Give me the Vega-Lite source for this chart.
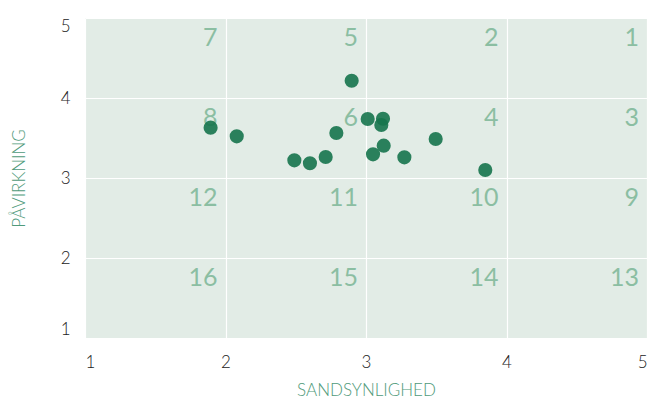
{
  "$schema": "https://vega.github.io/schema/vega-lite/v6.json",
  "width": 562,
  "height": 320,
  "autosize": {"type": "none"},
  "padding": {"left": 85, "top": 18, "right": 2, "bottom": 63},
  "background": "white",
  "config": {
    "view": {"fill": "#e2ece6", "stroke": null},
    "font": "Lato",
    "axis": {
      "grid": true, "gridColor": "white", "gridWidth": 1.2,
      "domain": false, "ticks": false,
      "labelFont": "Lato", "labelFontWeight": 300, "labelFontSize": 17, "labelColor": "#222222",
      "titleFont": "Lato", "titleFontWeight": 300, "titleFontSize": 17, "titleColor": "#4f9a7a"
    }
  },
  "layer": [
    {
      "data": {"values": [
        {"cx": 2, "cy": 5, "n": "7"}, {"cx": 3, "cy": 5, "n": "5"}, {"cx": 4, "cy": 5, "n": "2"}, {"cx": 5, "cy": 5, "n": "1"},
        {"cx": 2, "cy": 4, "n": "8"}, {"cx": 3, "cy": 4, "n": "6"}, {"cx": 4, "cy": 4, "n": "4"}, {"cx": 5, "cy": 4, "n": "3"},
        {"cx": 2, "cy": 3, "n": "12"}, {"cx": 3, "cy": 3, "n": "11"}, {"cx": 4, "cy": 3, "n": "10"}, {"cx": 5, "cy": 3, "n": "9"},
        {"cx": 2, "cy": 2, "n": "16"}, {"cx": 3, "cy": 2, "n": "15"}, {"cx": 4, "cy": 2, "n": "14"}, {"cx": 5, "cy": 2, "n": "13"}
      ]},
      "mark": {"type": "text", "align": "right", "baseline": "top", "dx": -8, "dy": 8, "fontSize": 25, "font": "Lato", "fontWeight": 400, "color": "#8bbea2"},
      "encoding": {
        "x": {"field": "cx", "type": "quantitative", "scale": {"domain": [1, 5], "nice": false, "zero": false}},
        "y": {"field": "cy", "type": "quantitative", "scale": {"domain": [1, 5], "nice": false, "zero": false}},
        "text": {"field": "n"}
      }
    },
    {
      "data": {"values": [
        {"sandsynlighed": 2.898, "paavirkning": 4.216},
        {"sandsynlighed": 1.894, "paavirkning": 3.629},
        {"sandsynlighed": 2.080, "paavirkning": 3.521},
        {"sandsynlighed": 2.490, "paavirkning": 3.221},
        {"sandsynlighed": 2.601, "paavirkning": 3.184},
        {"sandsynlighed": 2.713, "paavirkning": 3.262},
        {"sandsynlighed": 2.789, "paavirkning": 3.562},
        {"sandsynlighed": 3.012, "paavirkning": 3.737},
        {"sandsynlighed": 3.121, "paavirkning": 3.741},
        {"sandsynlighed": 3.109, "paavirkning": 3.663},
        {"sandsynlighed": 3.126, "paavirkning": 3.404},
        {"sandsynlighed": 3.050, "paavirkning": 3.296},
        {"sandsynlighed": 3.273, "paavirkning": 3.258},
        {"sandsynlighed": 3.496, "paavirkning": 3.488},
        {"sandsynlighed": 3.849, "paavirkning": 3.100}
      ]},
      "mark": {"type": "circle", "size": 200, "color": "#16744c", "opacity": 0.9},
      "encoding": {
        "x": {"field": "sandsynlighed", "type": "quantitative", "title": "SANDSYNLIGHED",
              "scale": {"domain": [1, 5], "nice": false, "zero": false},
              "axis": {"values": [1, 2, 3, 4, 5], "format": "d", "labelFlush": true, "labelPadding": 16, "titlePadding": 12}},
        "y": {"field": "paavirkning", "type": "quantitative", "title": "PÅVIRKNING",
              "scale": {"domain": [1, 5], "nice": false, "zero": false},
              "axis": {"values": [1, 2, 3, 4, 5], "format": "d", "labelFlush": true, "labelPadding": 15, "titlePadding": 32}}
      }
    }
  ]
}
